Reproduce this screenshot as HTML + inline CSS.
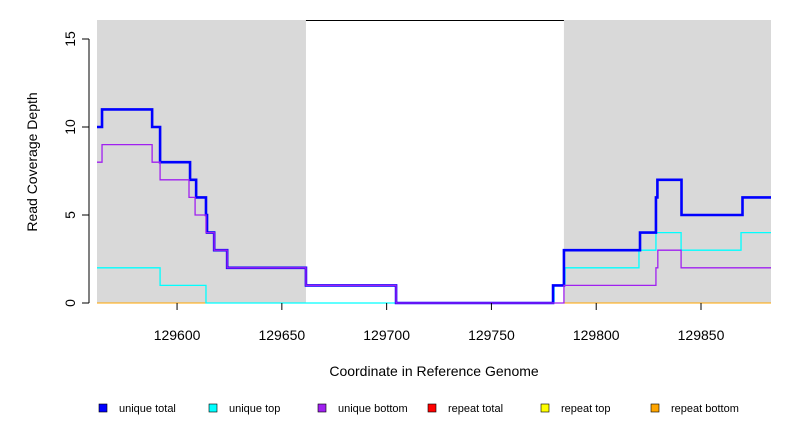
<!DOCTYPE html>
<html><head><meta charset="utf-8"><style>
body{margin:0;background:#fff;}
svg{display:block;font-family:"Liberation Sans",sans-serif;}
</style></head><body>
<svg id="chart" width="792" height="432"></svg>
<script>
const xTicks=[129600,129650,129700,129750,129800,129850];
const yTicks=[0,5,10,15];
const shadeRegions=[[129561.8,129661.5],[129784.6,129883.4]];
const totalStarts=[129561.8,129564.2,129588.1,129591.9,129606.2,129609.1,129613.8,129614.3,129617.7,129623.9,129661.5,129704.5,129779.4,129784.6,129820.9,129828.5,129829.2,129840.7,129869.8];
const totalVals=[10,11,10,8,7,6,5,4,3,2,1,0,1,3,4,6,7,5,6];
const topStarts=[129561.8,129591.9,129613.8,129779.9,129785.1,129820.4,129828.5,129840.5,129869.1];
const topVals=[2,1,0,1,2,3,4,3,4];
const botStarts=[129561.8,129564.2,129588.1,129591.9,129605.7,129608.6,129613.8,129617.7,129623.9,129661.5,129704.5,129784.6,129828.5,129829.4,129840.5];
const botVals=[8,9,8,7,6,5,4,3,2,1,0,1,2,3,2];
const legendLabels=["unique total","unique top","unique bottom","repeat total","repeat top","repeat bottom"];
const legendColors=["#0000ff","#00ffff","#a020f0","#ff0000","#ffff00","#ffa500"];

const X0=129561.8,X1=129883.4,L=97,R=771,B=303,T=20;
const xs=v=>L+(v-X0)*(R-L)/(X1-X0);
const ys=v=>B-v*17.6;
const NS="http://www.w3.org/2000/svg";
const svg=document.getElementById('chart');
function mk(tag,attrs,parent){const e=document.createElementNS(NS,tag);for(const k in attrs)e.setAttribute(k,attrs[k]);(parent||svg).appendChild(e);return e;}

shadeRegions.forEach((r,i)=>{
  const e=mk('rect',{x:xs(r[0]),y:T,width:xs(r[1])-xs(r[0]),height:B-T,fill:'#d9d9d9'});
  
  
});
const tl=mk('line',{x1:xs(shadeRegions[0][1]),x2:xs(shadeRegions[1][0]),y1:T+0.5,y2:T+0.5,stroke:'#000','stroke-width':1});



function step(starts,vals,color,w,name){
  let d='';
  for(let i=0;i<starts.length;i++){
    const x0=xs(starts[i]),x1=i+1<starts.length?xs(starts[i+1]):R,y=ys(vals[i]);
    d+=(i===0?'M':'L')+x0+' '+y+' L'+x1+' '+y+' ';
  }
  const p=mk('path',{d:d,fill:'none',stroke:color,'stroke-width':w});
  
  
}
const zl=mk('line',{x1:L,x2:R,y1:B,y2:B,stroke:'#ffa500','stroke-width':1});


step(topStarts,topVals,'#00ffff',1.3,'unique-top-line');
step(totalStarts,totalVals,'#0000ff',2.6,'unique-total-line');
step(botStarts,botVals,'#a020f0',1.3,'unique-bottom-line');

// axes
const xa=mk('g',{});


xTicks.forEach(t=>{
  mk('line',{x1:xs(t),x2:xs(t),y1:B,y2:B+7,stroke:'#000'},xa);
  const tx=mk('text',{x:xs(t),y:B+37,'text-anchor':'middle','font-size':14},xa);tx.textContent=t;
  
  
});
const ya=mk('g',{});


mk('line',{x1:L-8,x2:L-8,y1:ys(0),y2:ys(15),stroke:'#000'},ya);
yTicks.forEach(t=>{
  mk('line',{x1:L-15,x2:L-8,y1:ys(t),y2:ys(t),stroke:'#000'},ya);
  const tx=mk('text',{x:0,y:0,'text-anchor':'middle','font-size':14,transform:`translate(${L-22},${ys(t)}) rotate(-90)`},ya);tx.textContent=t;
  
  
});
const xt=mk('text',{x:434,y:376,'text-anchor':'middle','font-size':14});xt.textContent='Coordinate in Reference Genome';


const yt=mk('text',{x:0,y:0,'text-anchor':'middle','font-size':14,transform:'translate(37,162) rotate(-90)'});yt.textContent='Read Coverage Depth';



const lx=[99,209,318,428,541,651];
legendLabels.forEach((lab,i)=>{
  const g=mk('g',{});
  
  
  mk('rect',{x:lx[i],y:404,width:8,height:8,fill:legendColors[i],stroke:'#000','stroke-width':0.6},g);
  const t=mk('text',{x:lx[i]+20,y:412,'font-size':11},g);t.textContent=lab;
});
</script>
</body></html>
